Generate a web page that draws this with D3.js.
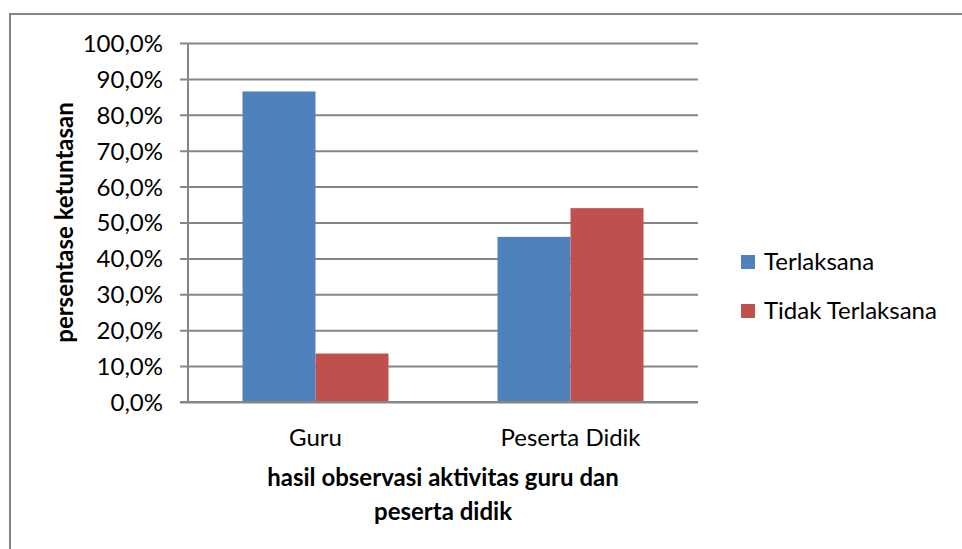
<!DOCTYPE html>
<html>
<head>
<meta charset="utf-8">
<script src="https://cdn.jsdelivr.net/npm/d3@7"></script>
<style>
  html, body { margin: 0; padding: 0; background: #fff; }
  svg { display: block; }
  text { font-family: Lato, "Open Sans", "Liberation Sans", sans-serif; fill: #000; }
</style>
</head>
<body>
<svg id="chart" width="962" height="549"></svg>
<script>
// Chart data
const categories = ["Guru", "Peserta Didik"];
const seriesNames = ["Terlaksana", "Tidak Terlaksana"];
const terlaksana = [86.5, 46.0];
const tidakTerlaksana = [13.5, 54.0];
const yTicks = [0, 10, 20, 30, 40, 50, 60, 70, 80, 90, 100];
const seriesColors = ["#4F81BD", "#C0504D"];

const seriesValues = [terlaksana, tidakTerlaksana];

const svg = d3.select("#chart");
const W = 962, H = 549;

// Outer chart frame
svg.append("rect")
  .attr("x", 10).attr("y", 14)
  .attr("width", W + 20).attr("height", H + 20)
  .attr("fill", "#fff")
  .attr("stroke", "#868686").attr("stroke-width", 2);

const plot = { left: 188, right: 698, top: 43, bottom: 402 };

const x0 = d3.scaleBand()
  .domain(categories)
  .range([plot.left, plot.right])
  .paddingInner(0).paddingOuter(0);

const groupFrac = 146 / 255;
const x1 = d3.scaleBand()
  .domain(seriesNames)
  .range([0, x0.bandwidth() * groupFrac]);

const y = d3.scaleLinear().domain([0, 100]).range([plot.bottom, plot.top]);

// Horizontal gridlines with short tick extensions
const yAxis = d3.axisLeft(y)
  .tickValues(yTicks)
  .tickSize(-(plot.right - plot.left))
  .tickSizeOuter(0)
  .tickFormat(d => d.toFixed(1).replace(".", ",") + "%");

const gy = svg.append("g")
  .attr("transform", `translate(${plot.left},0)`)
  .call(yAxis);
gy.select(".domain").remove();
gy.selectAll(".tick line")
  .attr("x1", -8)
  .attr("stroke", "#868686").attr("stroke-width", 2);
gy.selectAll(".tick text")
  .attr("x", -25)
  .attr("dy", "0.35em")
  .style("font-size", "24px")
  .style("font-family", "Lato, 'Open Sans', sans-serif")
  .attr("fill", "#000");

// Vertical axis line
svg.append("line")
  .attr("x1", plot.left).attr("x2", plot.left)
  .attr("y1", plot.top).attr("y2", plot.bottom)
  .attr("stroke", "#868686").attr("stroke-width", 2);

// Bars
const groups = svg.append("g").selectAll("g")
  .data(categories)
  .join("g")
  .attr("transform", c => `translate(${x0(c) + (x0.bandwidth() - x0.bandwidth() * groupFrac) / 2},0)`);

groups.selectAll("rect")
  .data((c, i) => seriesNames.map((s, j) => ({ s, v: seriesValues[j][i], color: seriesColors[j] })))
  .join("rect")
  .attr("x", d => x1(d.s))
  .attr("width", x1.bandwidth())
  .attr("y", d => y(d.v))
  .attr("height", d => y(0) - y(d.v))
  .attr("fill", d => d.color);

// Baseline drawn over bars
svg.append("line")
  .attr("x1", plot.left - 8).attr("x2", plot.right)
  .attr("y1", plot.bottom).attr("y2", plot.bottom)
  .attr("stroke", "#868686").attr("stroke-width", 2);

// Category labels
const gx = svg.append("g")
  .attr("transform", `translate(0,${plot.bottom})`)
  .call(d3.axisBottom(x0).tickSize(0));
gx.select(".domain").remove();
gx.selectAll(".tick text")
  .attr("y", 44)
  .attr("dy", "0")
  .style("font-size", "24px")
  .style("font-family", "Lato, 'Open Sans', sans-serif")
  .attr("fill", "#000");

// Axis titles
svg.append("text")
  .attr("transform", `translate(73,${(plot.top + plot.bottom) / 2}) rotate(-90)`)
  .attr("text-anchor", "middle")
  .style("font-size", "24px").style("font-weight", "bold")
  .text("persentase ketuntasan");

const xTitle = svg.append("text")
  .attr("text-anchor", "middle")
  .style("font-size", "24px").style("font-weight", "bold");
xTitle.append("tspan").attr("x", 443).attr("y", 486).text("hasil observasi aktivitas guru dan");
xTitle.append("tspan").attr("x", 443).attr("y", 520).text("peserta didik");

// Legend
const legend = svg.append("g").selectAll("g")
  .data(seriesNames)
  .join("g")
  .attr("transform", (d, i) => `translate(741,${255 + i * 49})`);
legend.append("rect")
  .attr("width", 14).attr("height", 14)
  .attr("fill", (d, i) => seriesColors[i]);
legend.append("text")
  .attr("x", 23).attr("y", 7).attr("dy", "0.35em")
  .style("font-size", "24px")
  .text(d => d);
</script>
</body>
</html>
